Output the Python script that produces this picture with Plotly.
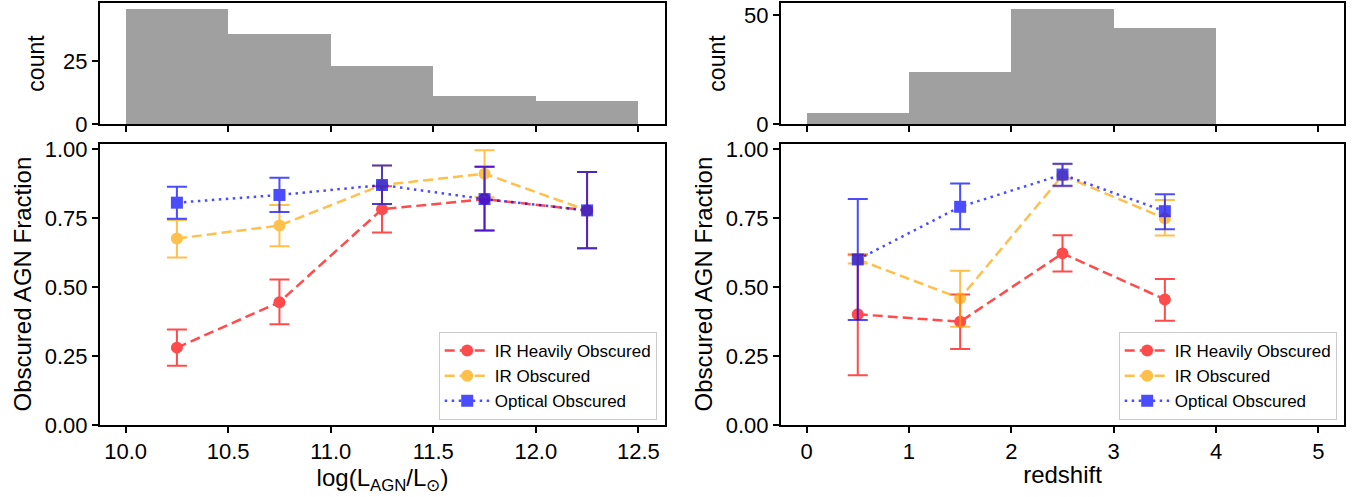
import plotly.graph_objects as go

# ---------------- data ----------------
lum_bin_centers = [10.25, 10.75, 11.25, 11.75, 12.25]
lum_counts = [46, 36, 23, 11, 9]
z_bin_centers = [0.5, 1.5, 2.5, 3.5]
z_counts = [5, 24, 53, 44]

lum_x = [10.25, 10.75, 11.25, 11.75, 12.25]
heavy_lum = [0.280, 0.445, 0.782, 0.819, 0.778]
heavy_lum_hi = [0.066, 0.082, 0.084, 0.117, 0.139]
heavy_lum_lo = [0.066, 0.080, 0.084, 0.114, 0.137]
ir_lum = [0.676, 0.723, 0.870, 0.911, 0.778]
ir_lum_hi = [0.067, 0.075, 0.071, 0.085, 0.139]
ir_lum_lo = [0.069, 0.075, 0.069, 0.085, 0.137]
opt_lum = [0.806, 0.834, 0.870, 0.819, 0.778]
opt_lum_hi = [0.058, 0.062, 0.071, 0.117, 0.139]
opt_lum_lo = [0.058, 0.062, 0.069, 0.114, 0.137]

z_x = [0.5, 1.5, 2.5, 3.5]
heavy_z = [0.401, 0.374, 0.622, 0.455]
heavy_z_hi = [0.217, 0.099, 0.066, 0.074]
heavy_z_lo = [0.221, 0.099, 0.066, 0.077]
ir_z = [0.600, 0.459, 0.905, 0.749]
ir_z_hi = [0.015, 0.100, 0.040, 0.067]
ir_z_lo = [0.015, 0.103, 0.040, 0.062]
opt_z = [0.600, 0.791, 0.908, 0.775]
opt_z_hi = [0.219, 0.085, 0.039, 0.062]
opt_z_lo = [0.220, 0.081, 0.041, 0.065]

series_names = ["IR Heavily Obscured", "IR Obscured", "Optical Obscured"]
series_colors = ["#ff0000", "#ffa500", "#0000ff"]
series_symbols = ["circle", "circle", "square"]
series_dash = ["10px,5px", "10px,5px", "2.5px,4.5px"]

FONT = "Liberation Sans, Arial, sans-serif"
W, H = 1364, 497

fig = go.Figure()

# histograms
fig.add_trace(go.Bar(x=lum_bin_centers, y=lum_counts, width=0.5,
                     marker=dict(color="#a0a0a0", line=dict(width=0)),
                     xaxis="x", yaxis="y", showlegend=False))
fig.add_trace(go.Bar(x=z_bin_centers, y=z_counts, width=1.0,
                     marker=dict(color="#a0a0a0", line=dict(width=0)),
                     xaxis="x2", yaxis="y2", showlegend=False))

left_sets = [(heavy_lum, heavy_lum_hi, heavy_lum_lo),
             (ir_lum, ir_lum_hi, ir_lum_lo),
             (opt_lum, opt_lum_hi, opt_lum_lo)]
right_sets = [(heavy_z, heavy_z_hi, heavy_z_lo),
              (ir_z, ir_z_hi, ir_z_lo),
              (opt_z, opt_z_hi, opt_z_lo)]

for i, (vals, hi, lo) in enumerate(left_sets):
    fig.add_trace(go.Scatter(
        x=lum_x, y=vals, mode="lines+markers", name=series_names[i],
        line=dict(color=series_colors[i], width=2.5, dash=series_dash[i]),
        marker=dict(color=series_colors[i], size=12, symbol=series_symbols[i]),
        error_y=dict(type="data", array=hi, arrayminus=lo, color=series_colors[i],
                     thickness=2, width=10),
        opacity=0.7, xaxis="x3", yaxis="y3", legend="legend"))

for i, (vals, hi, lo) in enumerate(right_sets):
    fig.add_trace(go.Scatter(
        x=z_x, y=vals, mode="lines+markers", name=series_names[i],
        line=dict(color=series_colors[i], width=2.5, dash=series_dash[i]),
        marker=dict(color=series_colors[i], size=12, symbol=series_symbols[i]),
        error_y=dict(type="data", array=hi, arrayminus=lo, color=series_colors[i],
                     thickness=2, width=10),
        opacity=0.7, xaxis="x4", yaxis="y4", legend="legend2"))

left_dom = [100 / W, 665 / W]
right_dom = [781 / W, 1344 / W]
top_dom = [1 - 124 / H, 1 - 3 / H]
bot_dom = [1 - 424.8 / H, 1 - 143.5 / H]

tickfont = dict(family=FONT, size=22, color="black")
titlefont = dict(family=FONT, size=24, color="black")

def ax(**kw):
    base = dict(showline=True, linecolor="black", linewidth=2, mirror=True,
                ticks="outside", ticklen=6, tickwidth=1.5, tickcolor="black",
                showgrid=False, zeroline=False, tickfont=tickfont, automargin=False)
    base.update(kw)
    return base

legend_common = dict(xanchor="right", yanchor="bottom",
                     bgcolor="rgba(255,255,255,0.85)", bordercolor="#cccccc", borderwidth=1,
                     itemwidth=45, tracegroupgap=0,
                     font=dict(family=FONT, size=17, color="black"))

fig.update_layout(
    width=W, height=H,
    margin=dict(l=0, r=0, t=0, b=0),
    plot_bgcolor="white", paper_bgcolor="white",
    font=dict(family=FONT, color="black"),
    bargap=0,
    xaxis=ax(domain=left_dom, anchor="y", range=[9.875, 12.63],
             tickvals=[10.0, 10.5, 11.0, 11.5, 12.0, 12.5], showticklabels=False),
    yaxis=ax(domain=top_dom, anchor="x", range=[0, 48.3], tickvals=[0, 25],
             title=dict(text="count", font=dict(family=FONT, size=23, color="black"), standoff=12)),
    xaxis2=ax(domain=right_dom, anchor="y2", range=[-0.25, 5.25],
              tickvals=[0, 1, 2, 3, 4, 5], showticklabels=False),
    yaxis2=ax(domain=top_dom, anchor="x2", range=[0, 55.65], tickvals=[0, 50],
              title=dict(text="count", font=dict(family=FONT, size=23, color="black"), standoff=12)),
    xaxis3=ax(domain=left_dom, anchor="y3", range=[9.875, 12.63],
              tickvals=[10.0, 10.5, 11.0, 11.5, 12.0, 12.5],
              ticktext=["10.0", "10.5", "11.0", "11.5", "12.0", "12.5"],
              title=dict(text="log(L<sub>AGN</sub>/L<sub>⊙</sub>)", font=titlefont, standoff=3)),
    yaxis3=ax(domain=bot_dom, anchor="x3", range=[0, 1.0207],
              tickvals=[0, 0.25, 0.5, 0.75, 1.0],
              ticktext=["0.00", "0.25", "0.50", "0.75", "1.00"],
              title=dict(text="Obscured AGN Fraction", font=titlefont, standoff=6)),
    xaxis4=ax(domain=right_dom, anchor="y4", range=[-0.25, 5.25],
              tickvals=[0, 1, 2, 3, 4, 5],
              title=dict(text="redshift", font=titlefont, standoff=3)),
    yaxis4=ax(domain=bot_dom, anchor="x4", range=[0, 1.0207],
              tickvals=[0, 0.25, 0.5, 0.75, 1.0],
              ticktext=["0.00", "0.25", "0.50", "0.75", "1.00"],
              title=dict(text="Obscured AGN Fraction", font=titlefont, standoff=6)),
    legend=dict(x=656.7 / W, y=1 - 420 / H, **legend_common),
    legend2=dict(x=1336.7 / W, y=1 - 420 / H, **legend_common),
)

fig.write_html("out.html", config={"displayModeBar": False},
               post_script="document.body.style.margin='0px';")
